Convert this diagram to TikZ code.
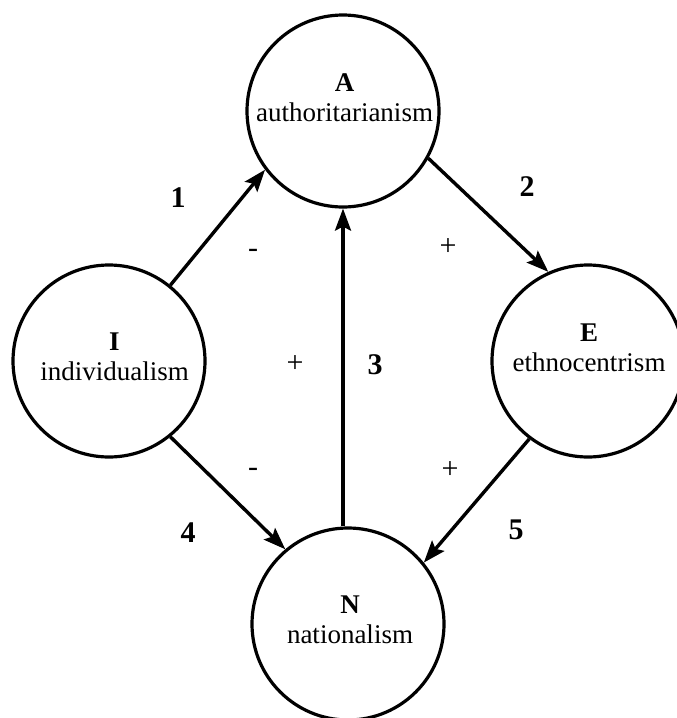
\documentclass[tikz,border=0pt]{standalone}
\usepackage{fontspec}
\setmainfont{Liberation Serif}
\usetikzlibrary{arrows.meta}
\begin{document}
\begin{tikzpicture}[x=0.5pt,y=-0.5pt,
    var/.style={draw,circle,line width=1.6pt,minimum size=96pt,inner sep=0pt},
    vartext/.style={align=center,font=\fontsize{13.5}{15}\selectfont},
    num/.style={font=\fontsize{15}{17}\selectfont\bfseries},
    sgn/.style={font=\fontsize{15}{17}\selectfont},
    arr/.style={-{Stealth[length=11pt,width=8pt,inset=2pt]},line width=1.7pt}]
    \useasboundingbox (0,0) rectangle (676,718);
    \node[var] (A) at (343,111) {};
    \node[var] (I) at (109,361) {};
    \node[var] (E) at (588,361) {};
    \node[var] (N) at (348,624) {};
    \node[vartext] (Atext) at (344.5,97.5) {\textbf{A}\\authoritarianism};
    \node[vartext] (Itext) at (114.5,357) {\textbf{I}\\individualism};
    \node[vartext] (Etext) at (589,347.5) {\textbf{E}\\ethnocentrism};
    \node[vartext] (Ntext) at (350,620) {\textbf{N}\\nationalism};
    \draw[arr] (I.51) -- (A.217);
    \draw[arr] (A.331) -- (E.114);
    \draw[arr] (A.south |- N.north) -- (A.south);
    \draw[arr] (I.309) -- (N.130);
    \draw[arr] (E.233) -- (N.39);
    \node[num] (n1) at (178,198) {1};
    \node[num] (n2) at (527,187) {2};
    \node[num] (n3) at (375,365) {3};
    \node[num] (n4) at (188,533) {4};
    \node[num] (n5) at (516,530) {5};
    \node[sgn] (s1) at (253,253) {-};
    \node[sgn] (s2) at (448,247) {+};
    \node[sgn] (s3) at (295,364) {+};
    \node[sgn] (s4) at (253,472) {-};
    \node[sgn] (s5) at (450,470) {+};
\end{tikzpicture}
\end{document}
